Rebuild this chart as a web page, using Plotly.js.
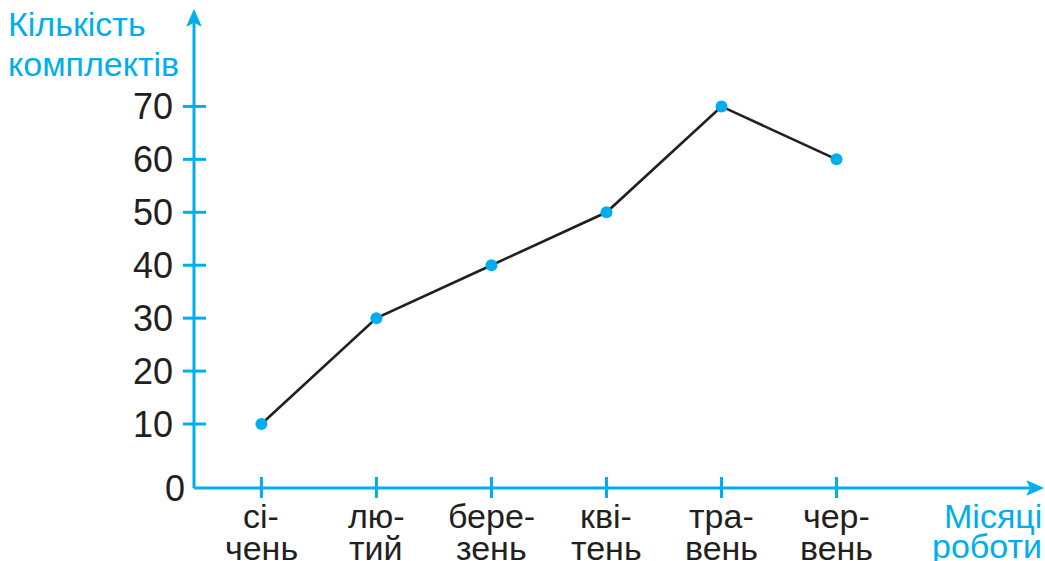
<!DOCTYPE html>
<html>
<head>
<meta charset="utf-8">
<script src="https://cdn.plot.ly/plotly-3.0.1.min.js"></script>
<style>html,body{margin:0;padding:0;background:#fff;}#chart{width:1045px;height:561px;}</style>
</head>
<body>
<div id="chart"></div>
<script>
// ---- data ----
var months = ['січень', 'лютий', 'березень', 'квітень', 'травень', 'червень'];
var labelTop = ['сі-', 'лю-', 'бере-', 'кві-', 'тра-', 'чер-'];
var labelBottom = ['чень', 'тий', 'зень', 'тень', 'вень', 'вень'];
var sets = [10, 30, 40, 50, 70, 60];
var yTickValues = [10, 20, 30, 40, 50, 60, 70];
var yZeroLabel = '0';
var yTitleLines = ['Кількість', 'комплектів'];
var xTitleLines = ['Місяці', 'роботи'];

// ---- style ----
var BLUE = '#00AEEF';
var INK = '#231F20';
var FONT = 'Liberation Sans, Arial, Helvetica, sans-serif';
var Y_MIN = -2.09, Y_MAX = 87.84;
var idx = months.map(function (_, i) { return i; });

var trace = {
  x: idx,
  y: sets,
  type: 'scatter',
  mode: 'lines+markers',
  line: { color: INK, width: 2.6 },
  marker: { color: BLUE, size: 12 },
  hoverinfo: 'skip',
  cliponaxis: false
};

var shapes = [];
// axis lines
shapes.push({ type: 'line', xref: 'paper', yref: 'paper', x0: 0, x1: 0, y0: 0, y1: 0.985, line: { color: BLUE, width: 3 }, layer: 'below' });
shapes.push({ type: 'line', xref: 'paper', yref: 'paper', x0: 0, x1: 0.99, y0: 0, y1: 0, line: { color: BLUE, width: 3 }, layer: 'below' });
// arrowheads
shapes.push({ type: 'path', xref: 'paper', yref: 'paper', xsizemode: 'pixel', ysizemode: 'pixel', xanchor: 0, yanchor: 1,
  path: 'M 0 2 L -7 -14 L 0 -10 L 7 -14 Z', fillcolor: BLUE, line: { color: BLUE, width: 1 } });
shapes.push({ type: 'path', xref: 'paper', yref: 'paper', xsizemode: 'pixel', ysizemode: 'pixel', xanchor: 1, yanchor: 0,
  path: 'M 0 0 L -16 7 L -12 0 L -16 -7 Z', fillcolor: BLUE, line: { color: BLUE, width: 1 } });
// crossing ticks on y axis
yTickValues.forEach(function (v) {
  shapes.push({ type: 'line', xref: 'paper', xsizemode: 'pixel', xanchor: 0, x0: -11, x1: 12,
    yref: 'y', y0: v, y1: v, line: { color: BLUE, width: 3 }, layer: 'below' });
});
// crossing ticks on x axis
idx.forEach(function (i) {
  shapes.push({ type: 'line', xref: 'x', x0: i, x1: i, yref: 'paper', ysizemode: 'pixel', yanchor: 0, y0: -10, y1: 11,
    line: { color: BLUE, width: 3 }, layer: 'below' });
});

var annotations = [];
idx.forEach(function (i) {
  annotations.push({ xref: 'x', x: i, yref: 'paper', y: 0, yanchor: 'middle', xanchor: 'center', yshift: -28,
    text: labelTop[i], showarrow: false, font: { family: FONT, size: 34, color: INK } });
  annotations.push({ xref: 'x', x: i, yref: 'paper', y: 0, yanchor: 'middle', xanchor: 'center', yshift: -60,
    text: labelBottom[i], showarrow: false, font: { family: FONT, size: 34, color: INK } });
});
// zero label at the axis corner
annotations.push({ xref: 'paper', x: 0, xanchor: 'right', xshift: -7, yref: 'y', y: Y_MIN, yanchor: 'middle',
  text: yZeroLabel, showarrow: false, font: { family: FONT, size: 36, color: INK } });
annotations.push({ xref: 'paper', x: 0, xanchor: 'left', xshift: -188, yref: 'paper', y: 1, yanchor: 'middle', yshift: -12,
  text: yTitleLines[0], showarrow: false, font: { family: FONT, size: 34, color: BLUE } });
annotations.push({ xref: 'paper', x: 0, xanchor: 'left', xshift: -188, yref: 'paper', y: 1, yanchor: 'middle', yshift: -52,
  text: yTitleLines[1], showarrow: false, font: { family: FONT, size: 34, color: BLUE } });
annotations.push({ xref: 'paper', x: 1, xanchor: 'right', xshift: 1, yref: 'paper', y: 0, yanchor: 'middle', yshift: -28,
  text: xTitleLines[0], showarrow: false, font: { family: FONT, size: 34, color: BLUE } });
annotations.push({ xref: 'paper', x: 1, xanchor: 'right', xshift: 1, yref: 'paper', y: 0, yanchor: 'middle', yshift: -58,
  text: xTitleLines[1], showarrow: false, font: { family: FONT, size: 34, color: BLUE } });

var layout = {
  width: 1045, height: 561,
  margin: { l: 194, r: 2, t: 12, b: 73, pad: 0 },
  paper_bgcolor: '#ffffff', plot_bgcolor: '#ffffff',
  showlegend: false,
  xaxis: {
    type: 'linear', range: [-0.586, 6.795],
    showgrid: false, zeroline: false, showline: false, ticks: '', showticklabels: false, fixedrange: true
  },
  yaxis: {
    range: [Y_MIN, Y_MAX],
    tickmode: 'array',
    tickvals: yTickValues,
    ticktext: yTickValues.map(String),
    ticks: '', ticklabelstandoff: 20,
    tickfont: { family: FONT, size: 36, color: INK },
    showgrid: false, zeroline: false, showline: false, fixedrange: true
  },
  shapes: shapes,
  annotations: annotations
};

Plotly.newPlot('chart', [trace], layout, { displayModeBar: false, staticPlot: true });
</script>
</body>
</html>
